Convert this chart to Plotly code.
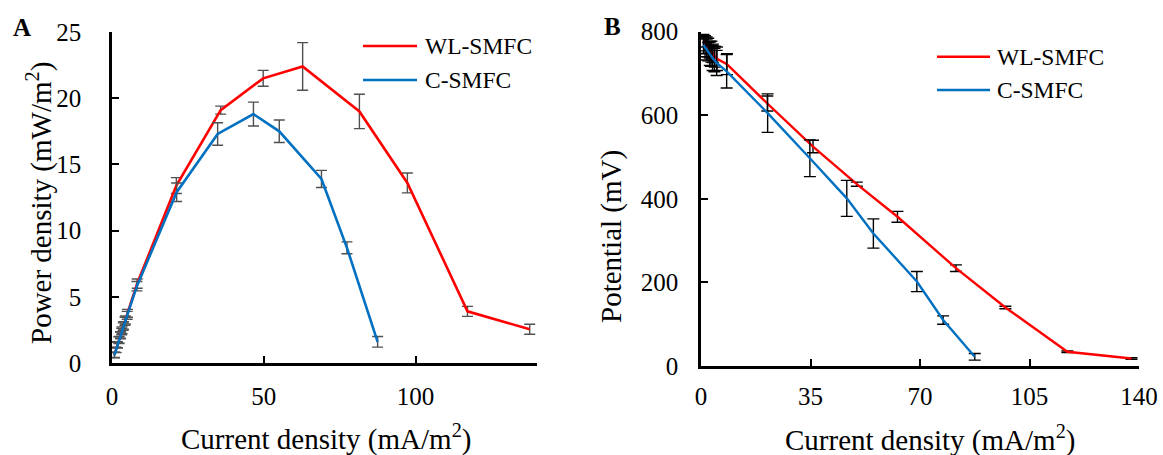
import plotly.graph_objects as go

W, H = 1163, 455

# ---------------- data ----------------
# WL-SMFC
wl_current = [0.8, 1.3, 1.8, 2.3, 2.8, 3.3, 3.8, 4.4, 5.1, 8.3, 21.2, 35.8, 49.8, 62.8, 81.5, 97.3, 117.1, 137.6]
wl_power = [0.62, 1.0, 1.38, 1.75, 2.12, 2.48, 2.84, 3.25, 3.75, 6.0, 13.4, 19.1, 21.5, 22.4, 19.0, 13.6, 3.9, 2.55]
wl_power_err = [0.2, 0.2, 0.22, 0.25, 0.25, 0.25, 0.28, 0.3, 0.3, 0.35, 0.6, 0.3, 0.6, 1.8, 1.3, 0.75, 0.38, 0.38]
wl_potential = [778, 772, 767, 762, 757, 752, 748, 740, 735, 722, 628, 525, 435, 357, 234, 140, 34, 18]
wl_potential_err = [15, 18, 20, 22, 20, 25, 22, 25, 28, 25, 18, 15, 5, 13, 8, 3, 2, 2]

# C-SMFC
c_current = [0.8, 1.3, 1.8, 2.3, 2.8, 3.2, 3.7, 4.3, 5.0, 8.2, 21.3, 34.8, 46.6, 55.1, 69.0, 77.4, 87.5]
c_power = [0.6, 0.98, 1.35, 1.72, 2.08, 2.38, 2.75, 3.15, 3.6, 5.8, 12.9, 17.3, 18.8, 17.5, 13.9, 8.7, 1.6]
c_power_err = [0.2, 0.2, 0.22, 0.25, 0.25, 0.25, 0.28, 0.3, 0.3, 0.35, 0.7, 0.85, 0.9, 0.85, 0.65, 0.45, 0.4]
c_potential = [768, 762, 757, 752, 747, 742, 737, 732, 725, 705, 605, 497, 401, 317, 202, 110, 22]
c_potential_err = [20, 22, 25, 22, 28, 25, 30, 28, 30, 40, 46, 44, 43, 35, 24, 10, 8]

series_names = ["WL-SMFC", "C-SMFC"]
series_colors = ["#FF0000", "#0070C0"]

x_ticks_a = [0, 50, 100]
x_ticks_b = [0, 35, 70, 105, 140]
y_ticks_a = [0, 5, 10, 15, 20, 25]
y_ticks_b = [0, 200, 400, 600, 800]

FONT = "Liberation Serif"


def px(x):
    return x / W


def py(y):
    return 1 - y / H


fig = go.Figure()

# Panel A traces
for cur, val, err, name, col in [
    (wl_current, wl_power, wl_power_err, series_names[0], series_colors[0]),
    (c_current, c_power, c_power_err, series_names[1], series_colors[1]),
]:
    fig.add_trace(go.Scatter(
        x=cur, y=val, mode="lines", name=name,
        line=dict(color=col, width=2.6),
        error_y=dict(type="data", array=err, visible=True, color="#505050",
                     thickness=1.4, width=5.5),
        xaxis="x", yaxis="y", showlegend=False,
    ))

# Panel B traces
for cur, val, err, name, col in [
    (wl_current, wl_potential, wl_potential_err, series_names[0], series_colors[0]),
    (c_current, c_potential, c_potential_err, series_names[1], series_colors[1]),
]:
    fig.add_trace(go.Scatter(
        x=cur, y=val, mode="lines", name=name,
        line=dict(color=col, width=2.4),
        error_y=dict(type="data", array=err, visible=True, color="#000000",
                     thickness=1.4, width=6),
        xaxis="x2", yaxis="y2", showlegend=False,
    ))

axis_common = dict(
    showline=True, linecolor="black", linewidth=2.5,
    ticks="inside", ticklen=7, tickwidth=2.2, tickcolor="black",
    showgrid=False, zeroline=False, mirror=False, automargin=False,
    tickfont=dict(family=FONT, size=25, color="black"),
)

fig.update_layout(
    width=W, height=H,
    margin=dict(l=0, r=0, t=0, b=0, pad=0),
    paper_bgcolor="white", plot_bgcolor="white",
    showlegend=False,
    font=dict(family=FONT, color="black"),
    xaxis=dict(domain=[px(112), px(537)], range=[0, 140], tickvals=x_ticks_a,
               anchor="y", ticklabelstandoff=9, **axis_common),
    yaxis=dict(domain=[py(363), py(32)], range=[0, 25], tickvals=y_ticks_a,
               anchor="x", ticklabelstandoff=23, **axis_common),
    xaxis2=dict(domain=[px(701), px(1139)], range=[0, 140], tickvals=x_ticks_b,
                anchor="y2", ticklabelstandoff=6, **axis_common),
    yaxis2=dict(domain=[py(366), py(31.6)], range=[0, 800], tickvals=y_ticks_b,
                anchor="x2", ticklabelstandoff=15, **axis_common),
)

annotations = []
title_font = dict(family=FONT, size=29, color="black")
# axis titles
annotations.append(dict(text="Current density (mA/m<sup>2</sup>)", x=px(326), y=py(437),
                        xref="paper", yref="paper", showarrow=False, font=title_font,
                        xanchor="center", yanchor="middle"))
annotations.append(dict(text="Power density (mW/m<sup>2</sup>)", x=px(39), y=py(203),
                        xref="paper", yref="paper", showarrow=False, font=title_font,
                        textangle=-90, xanchor="center", yanchor="middle"))
annotations.append(dict(text="Current density (mA/m<sup>2</sup>)", x=px(930), y=py(438),
                        xref="paper", yref="paper", showarrow=False, font=title_font,
                        xanchor="center", yanchor="middle"))
annotations.append(dict(text="Potential (mV)", x=px(611), y=py(237),
                        xref="paper", yref="paper", showarrow=False, font=title_font,
                        textangle=-90, xanchor="center", yanchor="middle"))
# panel letters
annotations.append(dict(text="<b>A</b>", x=px(22), y=py(27), xref="paper", yref="paper",
                        showarrow=False, font=dict(family=FONT, size=25, color="black"),
                        xanchor="center", yanchor="middle"))
annotations.append(dict(text="<b>B</b>", x=px(612), y=py(26), xref="paper", yref="paper",
                        showarrow=False, font=dict(family=FONT, size=25, color="black"),
                        xanchor="center", yanchor="middle"))

# manual legends
shapes = []
legend_font = dict(family=FONT, size=23.5, color="black")
for (lx0, lx1, tx, ys) in [(363, 417, 423, (46, 80)), (937, 990, 995, (56.7, 90))]:
    for name, col, yy in zip(series_names, series_colors, ys):
        shapes.append(dict(type="line", xref="paper", yref="paper",
                           x0=px(lx0), x1=px(lx1), y0=py(yy), y1=py(yy),
                           line=dict(color=col, width=2.6)))
        annotations.append(dict(text=name, x=px(tx), y=py(yy), xref="paper", yref="paper",
                                showarrow=False, font=legend_font,
                                xanchor="left", yanchor="middle"))

fig.update_layout(annotations=annotations, shapes=shapes)

fig.write_html(
    "out.html",
    config={"displayModeBar": False},
    post_script="document.body.style.margin='0';document.body.style.overflow='hidden';",
)
